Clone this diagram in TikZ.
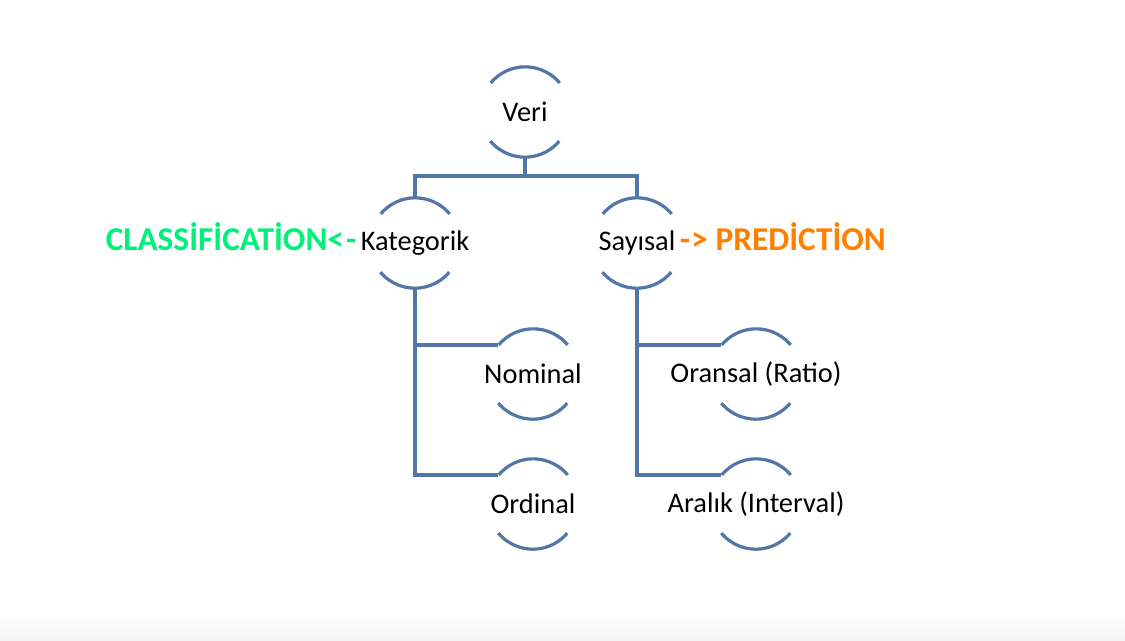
\documentclass[tikz,border=0pt]{standalone}
\usepackage{fontspec}
\setmainfont{Carlito}
\usetikzlibrary{positioning}
\definecolor{linec}{RGB}{82,118,166}
\definecolor{clsgreen}{RGB}{0,240,122}
\definecolor{predorange}{RGB}{255,128,0}

\tikzset{
	ring/.style={circle, minimum size=90*0.75pt, inner sep=0pt},
	lbl/.style={inner sep=0pt, font=\fontsize{21.3}{25}\selectfont},
	side/.style={inner sep=0pt, font=\fontsize{25}{29}\selectfont\bfseries},
	conn/.style={draw=linec, line width=2.4pt}
}

\begin{document}
\begin{tikzpicture}[x=0.75pt,y=-0.75pt]
			\useasboundingbox (0,0) rectangle (1125,640);
			\fill[white] (0,0) rectangle (1125,640);
			\shade[top color=white, bottom color=black!4] (0,612) rectangle (1125,640);
			\node[ring, label={[lbl, name=verit]center:Veri}] (veri) at (525,112) {};
			\node[ring, label={[lbl, name=katt]center:Kategorik}] (kat) at (415,243) {};
			\node[ring, label={[lbl, name=sayt]center:Sayısal}] (say) at (637,243) {};
			\node[ring, label={[lbl, name=nomt]center:Nominal}] (nom) at (533,374) {};
			\node[ring, label={[lbl, name=ordt]center:Ordinal}] (ord) at (533,504) {};
			\node[ring, label={[lbl, name=orat]center:Oransal (Ratio)}] (ora) at (756,374) {};
			\node[ring, label={[lbl, name=arat]center:Aralık (Interval)}] (ara) at (756,504) {};
			\node[side, text=clsgreen, base left=3pt of katt] (cls) {CLASSİFİCATİON<\kern1.5pt-};
			\node[side, text=predorange, base right=3pt of sayt] (pred) {-\kern1pt> PREDİCTİON};
			\foreach \n in {veri,kat,say,nom,ord,ora,ara}{
				\draw[conn] (\n.40) arc[start angle=-40, end angle=-140, radius=45];
				\draw[conn] (\n.220) arc[start angle=140, end angle=40, radius=45];
			}
			\coordinate (bus) at (525,176);
			\draw[conn] (veri.south) -- (bus);
			\draw[conn] (kat.north) |- (bus) -| (say.north);
			\draw[conn] (kat.south) |- (nom.140);
			\draw[conn] (kat.south) |- (ord.140);
			\draw[conn] (say.south) |- (ora.140);
			\draw[conn] (say.south) |- (ara.140);
		\end{tikzpicture}
\end{document}
